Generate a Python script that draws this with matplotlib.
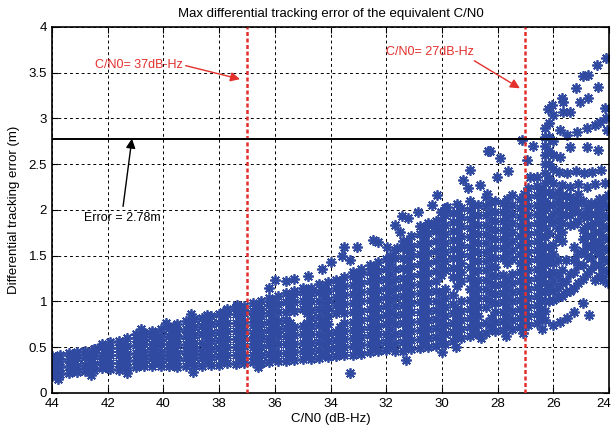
import matplotlib
matplotlib.use('Agg')
import matplotlib.pyplot as plt
import matplotlib.transforms as mtransforms
from matplotlib.ticker import FormatStrFormatter

plt.rcParams['font.family'] = ['Liberation Sans', 'DejaVu Sans']

left_x = [44.0, 43.7, 43.4, 43.1, 42.8, 42.5, 42.2, 41.9, 41.6, 41.3, 41.0, 40.7,
          40.4, 40.1, 39.8, 39.5, 39.2, 38.9, 38.6, 38.3, 38.0, 37.7, 37.4, 37.1]
left_y = [
    [0.19, 0.26, 0.33, 0.40],
    [0.21, 0.28, 0.35, 0.42],
    [0.22, 0.29, 0.37, 0.44],
    [0.23, 0.30, 0.38, 0.45],
    [0.24, 0.31, 0.39, 0.46],
    [0.25, 0.32, 0.40, 0.48],
    [0.27, 0.34, 0.42, 0.50, 0.53],
    [0.26, 0.33, 0.41, 0.49, 0.56],
    [0.25, 0.33, 0.41, 0.49, 0.57],
    [0.27, 0.35, 0.43, 0.51, 0.60],
    [0.28, 0.36, 0.44, 0.52, 0.60, 0.65],
    [0.29, 0.37, 0.45, 0.53, 0.61, 0.66],
    [0.30, 0.38, 0.46, 0.54, 0.62, 0.68],
    [0.29, 0.37, 0.45, 0.53, 0.61, 0.70],
    [0.30, 0.38, 0.46, 0.54, 0.62, 0.71],
    [0.28, 0.36, 0.44, 0.52, 0.60, 0.68, 0.75],
    [0.30, 0.38, 0.46, 0.54, 0.62, 0.70, 0.79],
    [0.31, 0.39, 0.47, 0.55, 0.63, 0.72, 0.81],
    [0.30, 0.38, 0.46, 0.55, 0.64, 0.73, 0.82],
    [0.31, 0.39, 0.48, 0.57, 0.66, 0.75, 0.84],
    [0.31, 0.40, 0.49, 0.58, 0.67, 0.76, 0.86],
    [0.33, 0.41, 0.50, 0.59, 0.68, 0.77, 0.86, 0.92],
    [0.32, 0.41, 0.50, 0.59, 0.68, 0.77, 0.86, 0.94],
    [0.33, 0.42, 0.51, 0.60, 0.69, 0.78, 0.87, 0.95],
]

mid_x = [36.8, 36.5, 36.2, 35.9, 35.6, 35.3, 35.0, 34.7, 34.4, 34.1, 33.8, 33.5,
         33.2, 32.9, 32.6, 32.3, 32.0, 31.7, 31.4, 31.1, 30.8, 30.5, 30.2]
mid_y = [
    [0.34, 0.42, 0.50, 0.58, 0.66, 0.74, 0.82, 0.90, 0.98],
    [0.33, 0.41, 0.50, 0.59, 0.67, 0.75, 0.84, 0.92, 1.00],
    [0.34, 0.43, 0.52, 0.60, 0.69, 0.78, 0.87, 0.96, 1.04],
    [0.35, 0.44, 0.53, 0.62, 0.70, 0.79, 0.88, 0.97, 1.06],
    [0.35, 0.44, 0.53, 0.62, 0.71, 0.80, 0.89, 0.99, 1.09],
    [0.36, 0.45, 0.54, 0.63, 0.72, 0.90, 0.99, 1.08, 1.12],
    [0.37, 0.46, 0.55, 0.64, 0.73, 0.92, 1.01, 1.10, 1.15],
    [0.37, 0.46, 0.55, 0.64, 0.73, 0.82, 0.91, 1.00, 1.09, 1.15],
    [0.38, 0.47, 0.56, 0.65, 0.74, 0.83, 0.92, 1.01, 1.10, 1.19],
    [0.39, 0.48, 0.57, 0.66, 0.75, 0.84, 0.93, 1.02, 1.12, 1.21],
    [0.40, 0.49, 0.58, 0.67, 0.87, 0.96, 1.05, 1.15, 1.24],
    [0.41, 0.50, 0.59, 0.68, 0.77, 0.87, 0.97, 1.07, 1.17, 1.27],
    [0.42, 0.51, 0.60, 0.69, 0.78, 0.88, 0.98, 1.08, 1.18, 1.28, 1.32],
    [0.43, 0.52, 0.61, 0.70, 0.80, 0.90, 1.00, 1.10, 1.20, 1.30, 1.36],
    [0.45, 0.54, 0.63, 0.72, 0.82, 0.92, 1.02, 1.12, 1.22, 1.32, 1.40],
    [0.46, 0.55, 0.64, 0.73, 0.83, 0.93, 1.03, 1.13, 1.23, 1.33, 1.43],
    [0.47, 0.56, 0.65, 0.75, 0.85, 0.95, 1.05, 1.15, 1.25, 1.35, 1.46],
    [0.46, 0.55, 0.65, 0.75, 0.85, 0.95, 1.05, 1.15, 1.25, 1.36, 1.47, 1.56],
    [0.46, 0.56, 0.66, 0.76, 0.86, 0.96, 1.06, 1.16, 1.26, 1.37, 1.48, 1.58, 1.66],
    [0.48, 0.58, 0.68, 0.78, 0.88, 0.98, 1.08, 1.18, 1.28, 1.39, 1.50, 1.61, 1.72],
    [0.49, 0.59, 0.69, 0.79, 0.89, 0.99, 1.09, 1.19, 1.30, 1.41, 1.52, 1.63, 1.74, 1.82],
    [0.50, 0.60, 0.70, 0.80, 0.90, 1.00, 1.10, 1.20, 1.31, 1.42, 1.53, 1.64, 1.75, 1.86],
    [0.51, 0.61, 0.71, 0.81, 0.91, 1.01, 1.11, 1.22, 1.33, 1.44, 1.55, 1.66, 1.77, 1.88],
]

right_x = [29.9, 29.6, 29.3, 29.0, 28.7, 28.4, 28.1, 27.8, 27.5, 27.2,
           26.9, 26.6, 26.3, 26.0, 25.7, 25.4, 25.1, 24.8, 24.5, 24.2]
right_y = [
    [0.54, 0.64, 0.74, 0.84, 0.94, 1.04, 1.14, 1.34, 1.44, 1.54, 1.64, 1.74, 1.84, 1.94, 2.02],
    [0.57, 0.67, 0.77, 0.87, 0.97, 1.07, 1.27, 1.37, 1.47, 1.57, 1.67, 1.77, 1.87, 1.97],
    [0.60, 0.70, 0.80, 0.90, 1.00, 1.22, 1.32, 1.42, 1.52, 1.62, 1.72, 1.82, 1.92, 2.02],
    [0.62, 0.72, 0.82, 0.92, 1.02, 1.14, 1.26, 1.38, 1.50, 1.60, 1.70, 1.80, 1.90, 2.00, 2.10],
    [0.64, 0.74, 0.84, 0.94, 1.04, 1.14, 1.24, 1.34, 1.44, 1.54, 1.64, 1.74, 1.84, 1.94, 2.06],
    [0.66, 0.76, 0.94, 1.04, 1.14, 1.24, 1.34, 1.44, 1.54, 1.64, 1.74, 1.84, 1.94, 2.04, 2.14],
    [0.68, 0.78, 0.88, 0.98, 1.08, 1.18, 1.28, 1.38, 1.48, 1.58, 1.68, 1.78, 1.88, 1.98, 2.10],
    [0.69, 0.79, 0.89, 0.99, 1.09, 1.19, 1.29, 1.48, 1.58, 1.68, 1.78, 1.88, 1.98, 2.08],
    [0.70, 0.80, 0.90, 1.00, 1.10, 1.20, 1.30, 1.46, 1.56, 1.66, 1.76, 1.86, 1.96, 2.06, 2.16],
    [0.72, 0.82, 0.92, 1.02, 1.12, 1.22, 1.32, 1.42, 1.52, 1.62, 1.72, 1.82, 1.92, 2.02, 2.12],
    [0.74, 0.84, 0.94, 1.04, 1.14, 1.24, 1.34, 1.44, 1.54, 1.64, 1.74, 1.84, 1.94, 2.04, 2.14, 2.24],
    [0.76, 0.86, 0.96, 1.06, 1.16, 1.26, 1.36, 1.46, 1.56, 1.66, 1.76, 1.86, 1.96, 2.06, 2.16, 2.26, 2.36],
    [0.80, 0.90, 1.00, 1.10, 1.20, 1.30, 1.40, 1.50, 1.60, 1.70, 1.80, 1.90, 2.00, 2.10, 2.20,
     2.30, 2.40, 2.50, 2.60, 2.70, 2.80, 2.90],
    [1.02, 1.12, 1.22, 1.32, 1.42, 1.52, 1.62, 1.86, 1.96, 2.06, 2.16, 2.30, 2.45, 2.60],
    [1.06, 1.20, 1.34, 1.66, 1.76, 1.86, 1.96, 2.06, 2.16],
    [1.12, 1.30, 1.84, 1.94, 2.04, 2.14],
    [1.20, 1.40, 1.52, 1.88, 1.98, 2.08, 2.18],
    [1.30, 1.50, 1.62, 1.72, 1.82, 1.92, 2.02],
    [1.24, 1.40, 1.56, 1.66, 1.76, 1.86, 1.96, 2.06],
    [1.24, 1.34, 1.46, 1.58, 1.70, 1.82, 1.94, 2.06, 2.12],
]

# in-between points that fill the band more tightly
fill_x = [43.85, 43.25, 42.65, 42.05, 41.45, 40.85, 40.25, 39.65, 39.05, 38.45, 37.85, 37.25,
          36.65, 36.05, 35.45, 34.85, 34.25, 33.65, 33.05, 32.45, 31.85, 31.25, 30.65, 30.05,
          29.45, 28.85, 28.25, 27.65, 27.05, 26.45, 26.15, 25.85, 25.55, 25.25, 24.95,
          24.65, 24.35, 24.05]
fill_y = [
    [0.23, 0.30, 0.37],
    [0.26, 0.34, 0.41],
    [0.28, 0.36, 0.43],
    [0.30, 0.38, 0.46],
    [0.29, 0.37, 0.45, 0.53],
    [0.32, 0.40, 0.48, 0.56, 0.62],
    [0.34, 0.42, 0.50, 0.58, 0.65],
    [0.33, 0.41, 0.49, 0.57, 0.65, 0.72],
    [0.35, 0.43, 0.51, 0.59, 0.67, 0.76],
    [0.35, 0.43, 0.51, 0.60, 0.69, 0.78],
    [0.36, 0.45, 0.54, 0.63, 0.72, 0.81, 0.89],
    [0.37, 0.46, 0.55, 0.64, 0.73, 0.82, 0.90],
    [0.38, 0.46, 0.54, 0.62, 0.70, 0.79, 0.88, 0.95],
    [0.39, 0.48, 0.57, 0.66, 0.74, 0.83, 0.92, 1.01],
    [0.40, 0.49, 0.58, 0.67, 0.76, 0.94, 1.04],
    [0.41, 0.50, 0.59, 0.68, 0.77, 0.87, 0.96, 1.05, 1.12],
    [0.43, 0.52, 0.61, 0.70, 0.79, 0.88, 0.97, 1.06, 1.15],
    [0.45, 0.54, 0.63, 0.72, 0.92, 1.02, 1.12, 1.22],
    [0.47, 0.56, 0.65, 0.74, 0.83, 0.93, 1.03, 1.13, 1.23, 1.30],
    [0.50, 0.59, 0.68, 0.78, 0.88, 0.98, 1.08, 1.18, 1.28, 1.37],
    [0.51, 0.60, 0.70, 0.80, 0.90, 1.00, 1.10, 1.20, 1.30, 1.41, 1.50],
    [0.52, 0.62, 0.72, 0.82, 0.92, 1.02, 1.12, 1.23, 1.34, 1.45, 1.56, 1.66],
    [0.55, 0.64, 0.74, 0.84, 0.94, 1.04, 1.15, 1.26, 1.37, 1.48, 1.59, 1.70, 1.80],
    [0.58, 0.68, 0.78, 0.88, 0.98, 1.09, 1.29, 1.39, 1.49, 1.59, 1.69, 1.79, 1.89, 1.98],
    [0.62, 0.72, 0.82, 0.92, 1.17, 1.27, 1.37, 1.47, 1.57, 1.67, 1.77, 1.87, 1.97],
    [0.67, 0.77, 0.87, 0.97, 1.08, 1.20, 1.32, 1.44, 1.55, 1.65, 1.75, 1.85, 1.95, 2.05],
    [0.72, 0.82, 0.99, 1.09, 1.19, 1.29, 1.39, 1.49, 1.59, 1.69, 1.79, 1.89, 1.99, 2.09],
    [0.74, 0.84, 0.94, 1.04, 1.14, 1.24, 1.42, 1.52, 1.62, 1.72, 1.82, 1.92, 2.02, 2.12],
    [0.77, 0.87, 0.97, 1.07, 1.17, 1.27, 1.37, 1.47, 1.57, 1.67, 1.77, 1.87, 1.97, 2.07, 2.18],
    [0.82, 0.92, 1.02, 1.12, 1.22, 1.32, 1.42, 1.52, 1.62, 1.72, 1.82, 1.92, 2.02, 2.12, 2.22],
    [1.00, 1.15, 1.30, 1.45, 1.60, 1.75, 1.90, 2.05, 2.20, 2.35, 2.50, 2.65, 2.80],
    [1.05, 1.15, 1.28, 1.45, 1.70, 1.80, 1.90, 2.00, 2.10, 2.20],
    [1.10, 1.22, 1.45, 1.95, 2.05, 2.15],
    [1.15, 1.32, 1.45, 1.60, 1.85, 2.00, 2.10],
    [1.25, 1.40, 1.55, 1.68, 1.78, 1.95, 2.10],
    [1.35, 1.48, 1.60, 1.72, 1.84, 1.96, 2.08],
    [1.28, 1.40, 1.52, 1.64, 1.76, 1.88, 2.00, 2.12],
    [1.20, 1.32, 1.44, 1.56, 1.68, 1.80, 1.92, 2.04, 2.16],
]

# scattered points outside the band
extra_x = [24.1, 24.43, 24.75, 24.93, 25.18, 24.4, 24.75, 25.04, 25.69, 25.65, 25.4, 25.65,
           26.05, 24.14, 26.0, 25.76, 25.5, 25.15, 24.8, 24.5, 24.32, 24.1, 24.07, 24.8,
           24.4, 25.4, 25.76, 26.0, 26.15, 26.2,
           25.8, 25.5, 25.2, 24.9, 24.6, 24.3, 25.7, 25.4, 25.1, 24.8, 24.5, 24.15,
           28.27, 27.92, 29.0, 27.63, 29.24, 28.63, 28.02, 30.18, 26.73, 27.12, 26.95, 26.84,
           28.34, 29.06, 28.38, 30.36, 29.82,
           30.86, 31.43, 31.2, 31.68, 31.5, 32.47, 32.29, 33.05, 31.6, 31.97, 31.13, 30.5,
           30.25, 29.46, 33.5, 33.3, 34.0, 34.3, 35.3, 35.6, 36.0, 36.2, 34.8, 33.6,
           33.3, 31.3, 36.6, 38.94, 41.3, 43.8, 42.6,
           26.0, 25.75, 25.5, 25.25, 24.93, 24.72, 26.4, 27.1, 27.7, 28.6, 29.5, 30.0,
           39.9, 38.43, 37.36, 42.46, 40.8, 39.0]
extra_y = [3.66, 3.58, 3.47, 3.46, 3.33, 3.34, 3.22, 3.18, 3.22, 3.18, 3.07, 3.07,
           3.15, 3.11, 3.04, 2.87, 2.82, 2.85, 2.90, 2.93, 2.96, 3.00, 2.87, 2.69,
           2.66, 2.69, 2.58, 2.75, 2.95, 3.10,
           2.42, 2.40, 2.43, 2.40, 2.42, 2.44, 2.27, 2.25, 2.28, 2.25, 2.28, 2.30,
           2.64, 2.57, 2.44, 2.43, 2.33, 2.27, 2.36, 2.16, 2.70, 2.77, 2.55, 2.36,
           2.64, 2.24, 2.18, 2.05, 2.03,
           1.98, 1.93, 1.91, 1.84, 1.76, 1.67, 1.65, 1.60, 1.58, 1.60, 1.56, 1.84,
           1.82, 2.07, 1.60, 1.45, 1.43, 1.35, 1.25, 1.22, 1.23, 1.15, 1.28, 1.50,
           0.22, 0.36, 0.28, 0.23, 0.22, 0.15, 0.20,
           0.74, 0.78, 0.82, 0.88, 0.98, 0.85, 0.70, 0.66, 0.62, 0.60, 0.50, 0.45,
           0.77, 0.85, 0.96, 0.48, 0.70, 0.86]


def flatten(cols_x, cols_y):
    xs, ys = [], []
    for x, col in zip(cols_x, cols_y):
        xs += [x] * len(col)
        ys += col
    return xs, ys


xs, ys = [], []
for cx, cy in [(left_x, left_y), (mid_x, mid_y), (right_x, right_y), (fill_x, fill_y)]:
    a, b = flatten(cx, cy)
    xs += a
    ys += b
xs += extra_x
ys += extra_y

blue = '#2f4aa0'
red = '#e3302c'

fig = plt.figure(figsize=(6.14, 4.34), dpi=100)
ax = fig.add_axes([0.0847, 0.0945, 0.9072, 0.8433])

ax.plot(xs, ys, linestyle='none', marker=(8, 2, 0), markersize=7.5,
        markeredgewidth=1.3, color=blue, zorder=2)

ax.axvline(37, color=red, linestyle=(0, (1.6, 1.0)), linewidth=1.8, zorder=3)
ax.axvline(27, color=red, linestyle=(0, (1.6, 1.0)), linewidth=1.8, zorder=3)
ax.axhline(2.78, color='k', linewidth=1.4, zorder=3)

ax.annotate('C/N0= 37dB-Hz', xy=(37.25, 3.43), xytext=(42.45, 3.585),
            ha='left', va='center', color=red, fontsize=9,
            arrowprops=dict(arrowstyle='-|>', color=red, lw=1.0,
                            mutation_scale=14, relpos=(1.0, 0.5), shrinkA=0, shrinkB=0))
ax.annotate('C/N0= 27dB-Hz', xy=(27.2, 3.33), xytext=(32.0, 3.727),
            ha='left', va='center', color=red, fontsize=9,
            arrowprops=dict(arrowstyle='-|>', color=red, lw=1.0,
                            mutation_scale=14, relpos=(0.95, 0.0), shrinkA=0, shrinkB=0))
ax.annotate('Error = 2.78m', xy=(41.13, 2.78), xytext=(42.85, 1.913),
            ha='left', va='center', color='k', fontsize=9,
            arrowprops=dict(arrowstyle='-|>', color='k', lw=1.0,
                            mutation_scale=14, relpos=(0.5, 1.0), shrinkA=2, shrinkB=0))

ax.set_xlim(44, 24)
ax.set_ylim(0, 4)
ax.set_xticks(list(range(44, 23, -2)))
ax.set_yticks([0, 0.5, 1, 1.5, 2, 2.5, 3, 3.5, 4])
ax.yaxis.set_major_formatter(FormatStrFormatter('%g'))
ax.tick_params(direction='in', top=True, right=True, length=4, labelsize=9.5, width=0.8)
ax.set_axisbelow(True)
ax.grid(True, color='k', linestyle=(0, (3, 3)), linewidth=0.7)
for s in ax.spines.values():
    s.set_linewidth(1.2)

# keep the last x tick label inside the figure
last = ax.get_xticklabels()[-1]
last.set_transform(last.get_transform() + mtransforms.ScaledTranslation(-5 / 100, 0, fig.dpi_scale_trans))

ax.set_title('Max differential tracking error of the equivalent C/N0', fontsize=9.5, pad=7)
ax.set_xlabel('C/N0 (dB-Hz)', fontsize=9.5, labelpad=2)
ax.set_ylabel('Differential tracking error (m)', fontsize=9.5, labelpad=6)

fig.savefig('out.png', dpi=100)
